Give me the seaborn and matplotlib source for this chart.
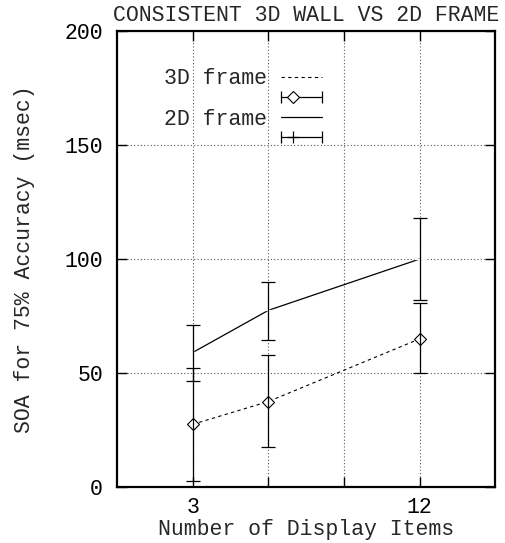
import numpy as np
import matplotlib
matplotlib.use("Agg")
import matplotlib.pyplot as plt
import seaborn as sns
from matplotlib.lines import Line2D
from matplotlib.legend_handler import HandlerLine2D

# data
items = [3, 6, 12]
soa_3d = [27.5, 37.5, 65]
low_3d = [2.5, 17.5, 50]
high_3d = [52, 58, 80.5]
soa_2d = [59, 77.5, 100]
low_2d = [46.5, 64.5, 82]
high_2d = [71, 90, 118]
xticks = [3, 6, 9, 12]
xticklabels = ['3', '', '', '12']
yticks = [0, 50, 100, 150, 200]

sns.set_style("ticks")
plt.rcParams['font.family'] = ['Liberation Mono', 'DejaVu Sans Mono']
plt.rcParams['font.size'] = 15.5

fig = plt.figure(figsize=(5.05, 5.43), dpi=100)
ax = fig.add_axes([0.2317, 0.1031, 0.7494, 0.8398])

dash = (0, (3, 3))
sns.lineplot(x=items, y=soa_3d, ax=ax, color='k', lw=0.8, linestyle=dash,
             marker='D', markersize=6, markerfacecolor='white',
             markeredgecolor='k', markeredgewidth=0.8)
sns.lineplot(x=items, y=soa_2d, ax=ax, color='k', lw=0.9,
             marker='+', markersize=9, markeredgewidth=0.9)

y3 = np.array(soa_3d)
y2 = np.array(soa_2d)
ax.errorbar(items, y3, yerr=[y3 - np.array(low_3d), np.array(high_3d) - y3],
            fmt='none', ecolor='k', elinewidth=0.9, capsize=5, capthick=0.9)
ax.errorbar(items, y2, yerr=[y2 - np.array(low_2d), np.array(high_2d) - y2],
            fmt='none', ecolor='k', elinewidth=0.9, capsize=5, capthick=0.9)

ax.set_xlim(0, 15)
ax.set_ylim(0, 200)
ax.set_xticks(xticks, xticklabels)
ax.set_yticks(yticks)
ax.grid(True, color='0.35', linestyle=(0, (1, 2)), lw=0.8)
ax.tick_params(direction='in', length=7, width=1, top=True, right=True,
               colors='k', labelsize=15.5)
ax.tick_params(axis='y', pad=10)
ax.tick_params(axis='x', pad=7)
for s in ax.spines.values():
    s.set_linewidth(1.6)
    s.set_color('k')

ax.set_xlabel('Number of Display Items', labelpad=1, fontsize=15.5)
ax.set_ylabel('SOA for 75% Accuracy (msec)', labelpad=21, fontsize=15.5)
ax.set_title('CONSISTENT 3D WALL VS 2D FRAME', pad=7, fontsize=15.5)


class LeftMarker(HandlerLine2D):
    # gnuplot puts the point marker left of centre in its key
    def get_xdata(self, legend, xdescent, ydescent, width, height, fontsize):
        xd = np.array([-xdescent, -xdescent + 0.6 * width])
        return xd, xd


# gnuplot-style key
h1 = Line2D([], [], color='k', lw=0.8, linestyle=dash)
e1 = Line2D([], [], color='k', lw=0.9, marker='|', markersize=9, markeredgewidth=0.9)
m1 = Line2D([], [], color='k', lw=0, marker='D', markersize=6,
            markerfacecolor='white', markeredgewidth=0.8)
h2 = Line2D([], [], color='k', lw=0.9)
e2 = Line2D([], [], color='k', lw=0.9, marker='|', markersize=9, markeredgewidth=0.9)
m2 = Line2D([], [], color='k', lw=0, marker='+', markersize=9, markeredgewidth=0.9)
hmap = {e1: HandlerLine2D(numpoints=2, marker_pad=0), e2: HandlerLine2D(numpoints=2, marker_pad=0),
        m1: LeftMarker(numpoints=1), m2: LeftMarker(numpoints=1)}
ax.legend([h1, (e1, m1), h2, (e2, m2)], ['3D frame', '', '2D frame', ''],
          handler_map=hmap, loc='upper right', bbox_to_anchor=(0.542, 0.918),
          frameon=False, markerfirst=False, borderpad=0, borderaxespad=0,
          handlelength=1.9, handletextpad=0.65, labelspacing=-0.04, fontsize=15.5)

fig.savefig('out.png', dpi=100)
